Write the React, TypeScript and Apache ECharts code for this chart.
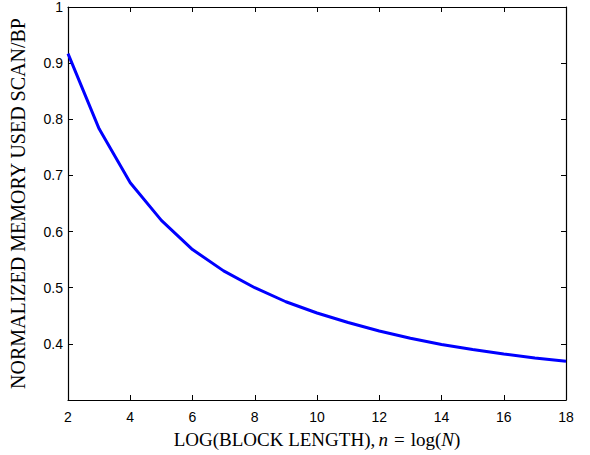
import React, { useEffect, useRef } from "react";
import * as echarts from "echarts";

const blockLog: number[] = [2, 3, 4, 5, 6, 7, 8, 9, 10, 11, 12, 13, 14, 15, 16, 17, 18];
const memoryRatio: number[] = [0.917, 0.783, 0.687, 0.62, 0.568, 0.53, 0.5, 0.475, 0.455, 0.438, 0.423, 0.41, 0.399, 0.39, 0.382, 0.375, 0.369];

export default function App() {
  const ref = useRef<HTMLDivElement>(null);
  useEffect(() => {
    if (!ref.current) return;
    const chart = echarts.init(ref.current, null, { renderer: "svg" });
    const tickStyle = { show: true, inside: true, length: 5, lineStyle: { color: "#000", width: 1 } };
    const lineStyle = { color: "#000", width: 1.2 };
    chart.setOption({
      animation: false,
      backgroundColor: "#fff",
      grid: { left: 67, top: 6, right: 24, bottom: 55 },
      xAxis: [
        {
          type: "value", min: 2, max: 18, interval: 2, position: "bottom",
          axisLine: { show: true, lineStyle },
          axisTick: tickStyle,
          splitLine: { show: false },
          axisLabel: { color: "#000", fontFamily: "Liberation Sans", fontSize: 14, margin: 10 },
          name: "{r|LOG(BLOCK LENGTH),} {i|n}{e|=}{r|log(}{i|N}{r|)}",
          nameLocation: "middle",
          nameGap: 30,
          nameTextStyle: {
            rich: {
              r: { fontFamily: "Liberation Serif", fontSize: 19, color: "#000" },
              e: { fontFamily: "Liberation Serif", fontSize: 19, color: "#000", padding: [0, 6] },
              i: { fontFamily: "Liberation Serif", fontSize: 19, fontStyle: "italic", color: "#000" },
            },
          },
        },
        {
          type: "value", min: 2, max: 18, interval: 2, position: "top",
          axisLine: { show: true, lineStyle },
          axisTick: tickStyle,
          splitLine: { show: false },
          axisLabel: { show: false },
        },
      ],
      yAxis: [
        {
          type: "value", min: 0.3, max: 1, interval: 0.1, position: "left",
          axisLine: { show: true, lineStyle },
          axisTick: tickStyle,
          splitLine: { show: false },
          axisLabel: {
            color: "#000", fontFamily: "Liberation Sans", fontSize: 14, margin: 5, showMinLabel: false,
            formatter: (v: number) => String(Math.round(v * 10) / 10),
          },
          name: "NORMALIZED MEMORY USED SCAN/BP",
          nameLocation: "middle",
          nameGap: 40,
          nameTextStyle: { fontFamily: "Liberation Serif", fontSize: 20, color: "#000" },
        },
        {
          type: "value", min: 0.3, max: 1, interval: 0.1, position: "right",
          axisLine: { show: true, lineStyle },
          axisTick: tickStyle,
          splitLine: { show: false },
          axisLabel: { show: false },
        },
      ],
      series: [
        {
          type: "line",
          data: blockLog.map((n, i) => [n, memoryRatio[i]]),
          showSymbol: false,
          lineStyle: { color: "#0000ff", width: 3 },
          xAxisIndex: 0,
          yAxisIndex: 0,
        },
      ],
    });
    return () => chart.dispose();
  }, []);
  return <div ref={ref} style={{ width: 590, height: 455, position: "absolute", left: 0, top: 0 }} />;
}
